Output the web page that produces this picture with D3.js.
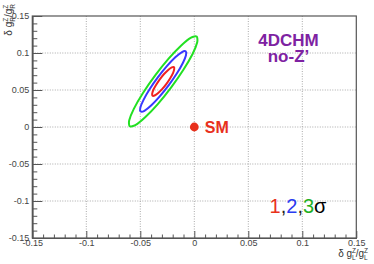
<!DOCTYPE html>
<html>
<head>
<meta charset="utf-8">
<script src="https://cdn.jsdelivr.net/npm/d3@7"></script>
<style>
  body { margin: 0; background: #fff; }
  svg { display: block; }
  .tick text { font-family: "Liberation Sans", Arial, sans-serif; font-size: 9px; fill: #444; }
</style>
</head>
<body>
<div id="chart"></div>
<script>
const xMajorTicks = [-0.15, -0.1, -0.05, 0, 0.05, 0.1, 0.15];
const yMajorTicks = [-0.15, -0.1, -0.05, 0, 0.05, 0.1, 0.15];
const minorTicks = [-0.14, -0.13, -0.12, -0.11, -0.09, -0.08, -0.07, -0.06, -0.04, -0.03, -0.02, -0.01,
                    0.01, 0.02, 0.03, 0.04, 0.06, 0.07, 0.08, 0.09, 0.11, 0.12, 0.13, 0.14];
const gridValues = [-0.1, -0.05, 0, 0.05, 0.1];

// contour points, [dgL, dgR]
const contour1 = [[-0.0189, 0.0809], [-0.0186, 0.0782], [-0.0197, 0.0729], [-0.0223, 0.0660], [-0.0258, 0.0584],
  [-0.0298, 0.0512], [-0.0337, 0.0457], [-0.0368, 0.0426], [-0.0387, 0.0423], [-0.0390, 0.0450], [-0.0379, 0.0503],
  [-0.0353, 0.0572], [-0.0318, 0.0648], [-0.0278, 0.0720], [-0.0239, 0.0775], [-0.0208, 0.0806]];
const contour2 = [[-0.0080, 0.1023], [-0.0077, 0.0971], [-0.0106, 0.0865], [-0.0162, 0.0722], [-0.0238, 0.0562],
  [-0.0322, 0.0410], [-0.0400, 0.0290], [-0.0462, 0.0219], [-0.0496, 0.0209], [-0.0500, 0.0261], [-0.0470, 0.0367],
  [-0.0414, 0.0510], [-0.0338, 0.0670], [-0.0254, 0.0822], [-0.0176, 0.0942], [-0.0114, 0.1013]];
const contour3 = [[0.0022, 0.1222], [0.0027, 0.1145], [-0.0016, 0.0987], [-0.0101, 0.0773], [-0.0214, 0.0535],
  [-0.0338, 0.0309], [-0.0455, 0.0131], [-0.0546, 0.0025], [-0.0598, 0.0010], [-0.0603, 0.0087], [-0.0560, 0.0245],
  [-0.0475, 0.0459], [-0.0362, 0.0697], [-0.0238, 0.0923], [-0.0121, 0.1101], [-0.0030, 0.1207]];
const contours = [contour3, contour2, contour1];
const contourColors = ["#22e022", "#3838ff", "#f02020"];
const smPoint = [0, 0];

const W = 374, H = 264;
const frame = { left: 32.3, right: 356.3, top: 16, bottom: 238 };

const svg = d3.select("#chart").append("svg").attr("width", W).attr("height", H);

const x = d3.scaleLinear().domain([-0.15, 0.15]).range([frame.left, frame.right]);
const y = d3.scaleLinear().domain([-0.15, 0.15]).range([frame.bottom, frame.top]);

// dotted grid
svg.append("g").selectAll("line.gx").data(gridValues).join("line")
    .attr("x1", d => x(d)).attr("x2", d => x(d))
    .attr("y1", frame.top).attr("y2", frame.bottom)
    .attr("stroke", "#aaa").attr("stroke-dasharray", "1,1.5");
svg.append("g").selectAll("line.gy").data(gridValues).join("line")
    .attr("y1", d => y(d)).attr("y2", d => y(d))
    .attr("x1", frame.left).attr("x2", frame.right)
    .attr("stroke", "#aaa").attr("stroke-dasharray", "1,1.5");

// frame
svg.append("rect")
    .attr("x", frame.left).attr("y", frame.top)
    .attr("width", frame.right - frame.left).attr("height", frame.bottom - frame.top)
    .attr("fill", "none").attr("stroke", "#555").attr("stroke-width", 1.2);

const fmt = d => d.toString();

// x axis, ticks pointing up
const gx = svg.append("g").attr("transform", `translate(0,${frame.bottom})`);
gx.call(d3.axisBottom(x).tickValues(xMajorTicks).tickFormat(fmt).tickSizeInner(-7).tickSizeOuter(0).tickPadding(2));
gx.append("g").call(d3.axisBottom(x).tickValues(minorTicks).tickFormat("").tickSizeInner(-3.5).tickSizeOuter(0));

// y axis, ticks pointing right
const gy = svg.append("g").attr("transform", `translate(${frame.left},0)`);
gy.call(d3.axisLeft(y).tickValues(yMajorTicks).tickFormat(fmt).tickSizeInner(-10).tickSizeOuter(0).tickPadding(3));
gy.append("g").call(d3.axisLeft(y).tickValues(minorTicks).tickFormat("").tickSizeInner(-5).tickSizeOuter(0));

svg.selectAll(".domain").attr("stroke", "#555").attr("stroke-width", 1.2);
svg.selectAll(".tick line").attr("stroke", "#555");

// contours
const line = d3.line().x(d => x(d[0])).y(d => y(d[1])).curve(d3.curveCardinalClosed.tension(0.3));
svg.append("g").selectAll("path").data(contours).join("path")
    .attr("d", line)
    .attr("fill", "none")
    .attr("stroke", (d, i) => contourColors[i])
    .attr("stroke-width", 2);

// SM point
svg.append("circle")
    .attr("cx", x(smPoint[0])).attr("cy", y(smPoint[1])).attr("r", 4.4)
    .attr("fill", "#e8301c");
svg.append("text")
    .attr("x", x(smPoint[0]) + 10.5).attr("y", y(smPoint[1]) + 6)
    .attr("font-family", "Liberation Sans, Arial, sans-serif")
    .attr("font-weight", "bold").attr("font-size", 16)
    .attr("fill", "#e8301c")
    .text("SM");

// model label
const model = svg.append("text")
    .attr("font-family", "Liberation Sans, Arial, sans-serif")
    .attr("font-weight", "bold").attr("font-size", 17)
    .attr("fill", "#7e22a2").attr("text-anchor", "middle");
model.append("tspan").attr("x", 288.5).attr("y", 45.7).text("4DCHM");
model.append("tspan").attr("x", 288.5).attr("y", 61.7).text("no-Z\u2019");

// sigma legend
const sig = svg.append("text")
    .attr("x", 298).attr("y", 212.5)
    .attr("font-family", "Liberation Sans, Arial, sans-serif")
    .attr("font-size", 20).attr("text-anchor", "middle");
[["1", "#e8301c"], [",", "#222"], ["2", "#2a3cf0"], [",", "#222"], ["3", "#1fb01f"], ["\u03c3", "#000"]]
    .forEach(p => sig.append("tspan").attr("fill", p[1]).text(p[0]));

// axis titles with stacked super/subscripts
function addTitle(g, letter) {
    g.append("tspan").text("\u03b4 g");
    g.append("tspan").attr("font-size", 6.5).attr("dy", -3.5).text("Z");
    g.append("tspan").attr("font-size", 6.5).attr("dx", -4).attr("dy", 7).text(letter);
    g.append("tspan").attr("dy", -3.5).text("/g");
    g.append("tspan").attr("font-size", 6.5).attr("dy", -3.5).text("Z");
    g.append("tspan").attr("font-size", 6.5).attr("dx", -4).attr("dy", 7).text(letter);
}
const xt = svg.append("text")
    .attr("x", 368).attr("y", 256.5)
    .attr("font-family", "Liberation Sans, Arial, sans-serif")
    .attr("font-size", 10).attr("fill", "#333").attr("text-anchor", "end");
addTitle(xt, "L");

const yt = svg.append("text")
    .attr("transform", "translate(11.5,4) rotate(-90)")
    .attr("font-family", "Liberation Sans, Arial, sans-serif")
    .attr("font-size", 10).attr("fill", "#333").attr("text-anchor", "end");
addTitle(yt, "R");
</script>
</body>
</html>
